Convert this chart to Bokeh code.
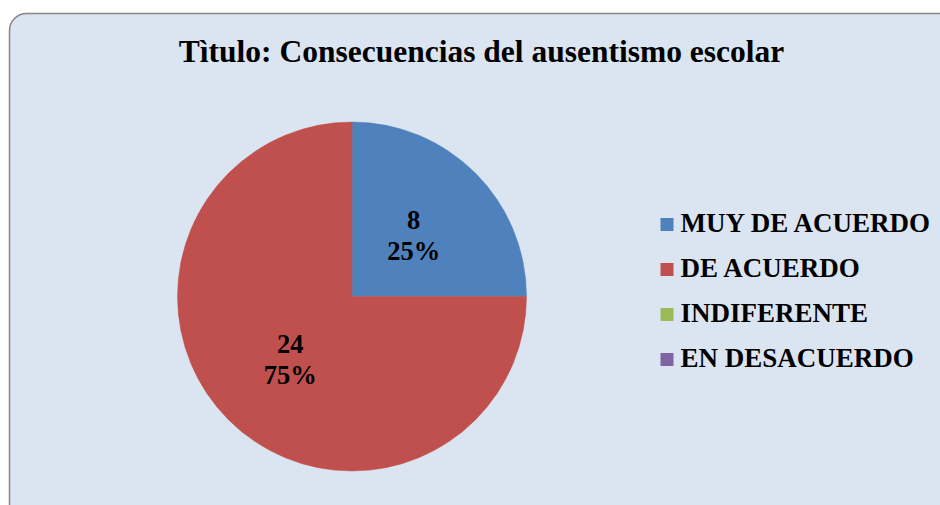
import math
from bokeh.plotting import figure
from bokeh.models import Range1d, BoxAnnotation, ColumnDataSource
from bokeh.core.properties import value
from bokeh.embed import file_html
from bokeh.resources import INLINE

# ---- data ----
categories = ["MUY DE ACUERDO", "DE ACUERDO", "INDIFERENTE", "EN DESACUERDO"]
counts = [8, 24, 0, 0]
colors = ["#4F81BD", "#C0504D", "#9BBB59", "#8064A2"]
title_text = "Tìtulo: Consecuencias del ausentismo escolar"

W, H = 940, 505
FONT = "Liberation Serif"

p = figure(width=W, height=H, x_range=Range1d(0, W), y_range=Range1d(0, H),
           min_border=0, toolbar_location=None, output_backend="svg")
p.axis.visible = False
p.grid.visible = False
p.outline_line_color = None
p.background_fill_color = "white"
p.border_fill_color = "white"

# chart area frame (rounded)
frame = BoxAnnotation(left=9, right=W + 40, bottom=-40, top=H - 13,
                      fill_color="#DBE5F1", fill_alpha=1.0,
                      line_color="#868686", line_alpha=1.0, line_width=1.5,
                      border_radius=17, level="underlay")
p.add_layout(frame)

# title
p.text(x=[481], y=[H - 50.5], text=[title_text],
       text_font=value(FONT), text_font_style="bold", text_font_size="31.5px",
       text_align="center", text_baseline="middle", text_color="black")

# pie
cx, cy, r = 351.5, H - 296.0, 174.5
total = sum(counts)
starts, ends, wc, lx, ly, lab1, lab2 = [], [], [], [], [], [], []
cum = 0
for c, col in zip(counts, colors):
    if c > 0:
        a0 = math.pi / 2 - 2 * math.pi * cum / total
        a1 = math.pi / 2 - 2 * math.pi * (cum + c) / total
        starts.append(a0)
        ends.append(a1)
        wc.append(col)
        mid = (a0 + a1) / 2
        lx.append(cx + 0.5 * r * math.cos(mid))
        ly.append(cy + 0.5 * r * math.sin(mid))
        lab1.append(str(c))
        lab2.append(f"{round(100 * c / total)}%")
    cum += c

src = ColumnDataSource(dict(start=starts, end=ends, color=wc))
p.wedge(x=cx, y=cy, radius=r, start_angle="start", end_angle="end",
        direction="clock", fill_color="color", line_color="color",
        line_width=0.5, source=src)

lsrc = ColumnDataSource(dict(x=lx, y1=[v + 14.5 for v in ly], y2=[v - 16.5 for v in ly],
                             t1=lab1, t2=lab2))
for ycol, tcol in (("y1", "t1"), ("y2", "t2")):
    p.text(x="x", y=ycol, text=tcol, source=lsrc,
           text_font=value(FONT), text_font_style="bold", text_font_size="26.5px",
           text_align="center", text_baseline="middle", text_color="black")

# legend
leg_y0 = H - 224
leg_dy = 45
ys = [leg_y0 - i * leg_dy for i in range(len(categories))]
p.scatter(x=[666.5] * len(categories), y=ys, marker="square", size=13,
          fill_color=colors, line_color=None)
p.text(x=[680] * len(categories), y=[v + 1.5 for v in ys], text=categories,
       text_font=value(FONT), text_font_style="bold", text_font_size="27px",
       text_align="left", text_baseline="middle", text_color="black")

open("out.html", "w").write(file_html(p, INLINE))
